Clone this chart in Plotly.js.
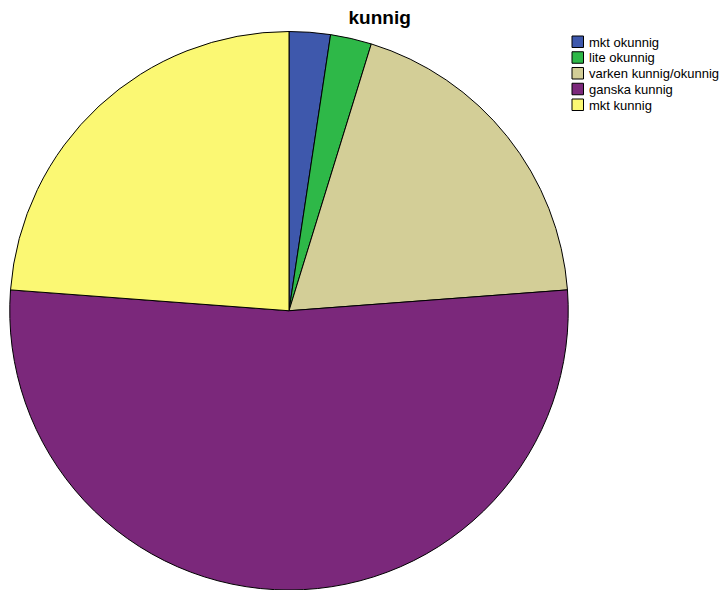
<!DOCTYPE html>
<html>
<head>
<meta charset="utf-8">
<script src="https://cdn.plot.ly/plotly-3.0.1.min.js"></script>
<style>html,body{margin:0;padding:0;background:#fff;}#chart{width:719px;height:590px;}</style>
</head>
<body>
<div id="chart"></div>
<script>
const categories = ["mkt okunnig", "lite okunnig", "varken kunnig/okunnig", "ganska kunnig", "mkt kunnig"];
const counts = [1, 1, 8, 22, 10];
const colors = ["#3E58AC", "#2EB848", "#D3CE97", "#7B287B", "#FBF873"];

const W = 719, H = 590;
const px = x => x / W;
const py = y => 1 - y / H;

const data = [{
  type: "pie",
  labels: categories,
  values: counts,
  sort: false,
  direction: "clockwise",
  rotation: 0,
  textinfo: "none",
  hoverinfo: "label+value+percent",
  showlegend: false,
  marker: { colors: colors, line: { color: "#000000", width: 1 } },
  domain: { x: [px(9.5), px(568.5)], y: [0, py(31.5)] }
}];

// legend built from the same category/colour arrays
const legTop = 36, legStep = 15.75, swX0 = 572, swSize = 11.5, textX = 587;
const shapes = [], annotations = [];
categories.forEach((c, i) => {
  const y0 = legTop + i * legStep;
  shapes.push({
    type: "rect", xref: "paper", yref: "paper",
    x0: px(swX0), x1: px(swX0 + swSize), y0: py(y0), y1: py(y0 + swSize),
    fillcolor: colors[i], line: { color: "#000", width: 1 }
  });
  annotations.push({
    xref: "paper", yref: "paper", x: px(textX), y: py(y0 + swSize / 2 + 0.3),
    xanchor: "left", yanchor: "middle", showarrow: false,
    text: c, font: { size: 13, color: "#000", family: "Liberation Sans, Arial, sans-serif" }
  });
});

const layout = {
  width: W, height: H,
  margin: { l: 0, r: 0, t: 0, b: 0 },
  paper_bgcolor: "#ffffff",
  font: { family: "Liberation Sans, Arial, sans-serif", color: "#000" },
  title: {
    text: "<b>kunnig</b>",
    font: { size: 19, color: "#000", family: "Liberation Sans, Arial, sans-serif" },
    x: px(379.7), xanchor: "center", xref: "paper",
    y: py(17.5), yanchor: "middle", yref: "paper"
  },
  showlegend: false,
  shapes: shapes,
  annotations: annotations
};

Plotly.newPlot("chart", data, layout, { displayModeBar: false, staticPlot: true });
</script>
</body>
</html>
